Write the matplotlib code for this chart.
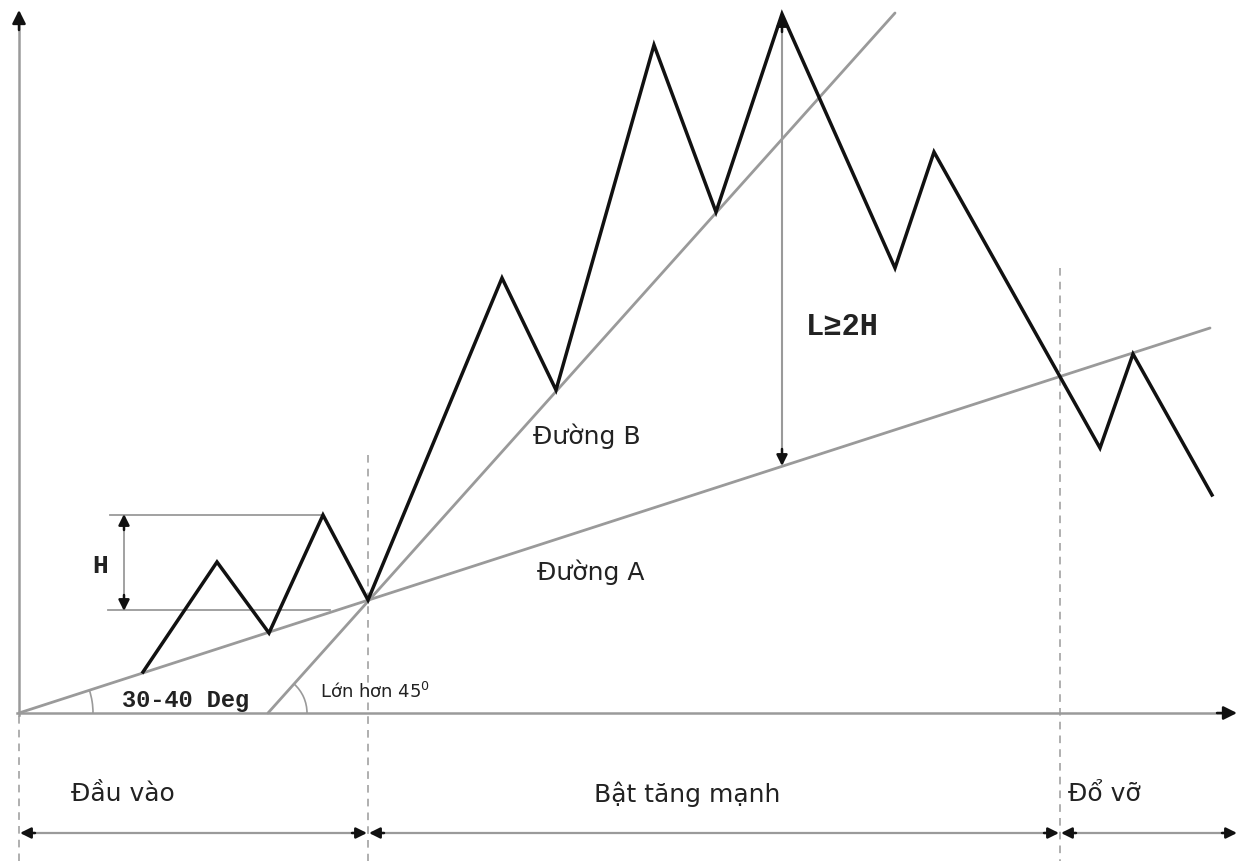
"""
Price pattern diagram: entry, strong breakout, collapse (Đầu vào / Bật tăng mạnh / Đổ vỡ).
Coordinates are in image pixel space (y grows downward).
"""
import matplotlib
matplotlib.use("Agg")
import matplotlib.pyplot as plt
from matplotlib.patches import Arc

W, H_PX = 1238, 861

# ─── Data ───────────────────────────────────────────────────────────────
price_x = [143, 217, 269, 323, 368, 502, 556, 654, 716, 782, 895, 934, 1100, 1133, 1212]
price_y = [672, 562, 633, 515, 600, 278, 390, 45, 212, 14, 268, 152, 448, 354, 495]

line_a_x = [19, 1210]
line_a_y = [713, 328]
line_b_x = [268, 895]
line_b_y = [713, 13]

phase_edges = [19, 368, 1060, 1238]
phase_labels = ["Đầu vào", "Bật tăng mạnh", "Đổ vỡ"]
phase_label_x = [123, 687, 1104]

GRAY = "#9a9a9a"
BLACK = "#111111"
SANS = ["DejaVu Sans"]
MONO = ["Liberation Mono", "DejaVu Sans Mono"]

fig = plt.figure(figsize=(W / 100, H_PX / 100), dpi=100)
ax = fig.add_axes([0, 0, 1, 1])
ax.set_xlim(0, W)
ax.set_ylim(H_PX, 0)
ax.axis("off")


def arrow(xy_to, xy_from, style="-|>", lw=1.8, ms=20):
    ax.annotate("", xy=xy_to, xytext=xy_from,
                arrowprops=dict(arrowstyle=style, color=GRAY, lw=lw,
                                mutation_scale=ms, fc=BLACK, ec=BLACK,
                                shrinkA=0, shrinkB=0))


# axes arrows
ax.plot([19, 19], [715, 24], color=GRAY, lw=1.8)
arrow((19, 10), (19, 30))
ax.plot([17, 1222], [713, 713], color=GRAY, lw=1.8)
arrow((1237, 713), (1217, 713))

# trend lines
ax.plot(line_a_x, line_a_y, color=GRAY, lw=2.0, solid_capstyle="round", zorder=2)
ax.plot(line_b_x, line_b_y, color=GRAY, lw=2.0, solid_capstyle="round", zorder=2)

# price path
ax.plot(price_x, price_y, color=BLACK, lw=2.5, solid_joinstyle="miter", zorder=4)

# dashed phase separators
ax.plot([19, 19], [716, 861], color=GRAY, lw=1.1, ls=(0, (5, 4)))
ax.plot([368, 368], [455, 861], color=GRAY, lw=1.1, ls=(0, (5, 4)))
ax.plot([1060, 1060], [268, 861], color=GRAY, lw=1.1, ls=(0, (5, 4)))

# H measurement
ax.plot([110, 323], [515, 515], color=GRAY, lw=1.3)
ax.plot([108, 330], [610, 610], color=GRAY, lw=1.3)
ax.plot([124, 124], [525, 600], color=GRAY, lw=1.3)
arrow((124, 514), (124, 530), ms=16)
arrow((124, 611), (124, 595), ms=16)
ax.text(100, 566, "H", fontsize=19, fontweight="bold", family=MONO,
        ha="center", va="center", color="#222222")

# L >= 2H measurement
ax.plot([782, 782], [24, 455], color=GRAY, lw=1.5, zorder=3)
arrow((782, 15), (782, 32), ms=16)
arrow((782, 466), (782, 449), ms=16)
ax.text(806, 327, "L≥2H", fontsize=22, fontweight="bold", family=MONO,
        ha="left", va="center", color="#222222")

# angle arcs (y axis is inverted, so angles run negative)
ax.add_patch(Arc((19, 713), 148, 148, theta1=-18, theta2=0, color=GRAY, lw=1.2))
ax.add_patch(Arc((268, 713), 78, 78, theta1=-48, theta2=0, color=GRAY, lw=1.2))
ax.text(122, 701, "30-40 Deg", fontsize=17, fontweight="bold", family=MONO,
        ha="left", va="center", color="#222222")
ax.text(320, 692, "Lớn hơn 45$^{0}$", fontsize=13, family=SANS,
        ha="left", va="center", color="#222222")

# line names
ax.text(533, 436, "Đường B", fontsize=18, family=SANS, ha="left", va="center",
        color="#222222")
ax.text(537, 572, "Đường A", fontsize=18, family=SANS, ha="left", va="center",
        color="#222222")

# phase arrows and labels
for x0, x1 in zip(phase_edges[:-1], phase_edges[1:]):
    ax.plot([x0 + 10, x1 - 10], [833, 833], color=GRAY, lw=1.6)
    arrow((x0 + 1, 833), (x0 + 16, 833), ms=16)
    arrow((x1 - 1, 833), (x1 - 16, 833), ms=16)
for lx, lab in zip(phase_label_x, phase_labels):
    ax.text(lx, 794, lab, fontsize=18, family=SANS, ha="center", va="center",
            color="#222222")

fig.savefig("out.png", dpi=100, facecolor="white")
plt.close()
